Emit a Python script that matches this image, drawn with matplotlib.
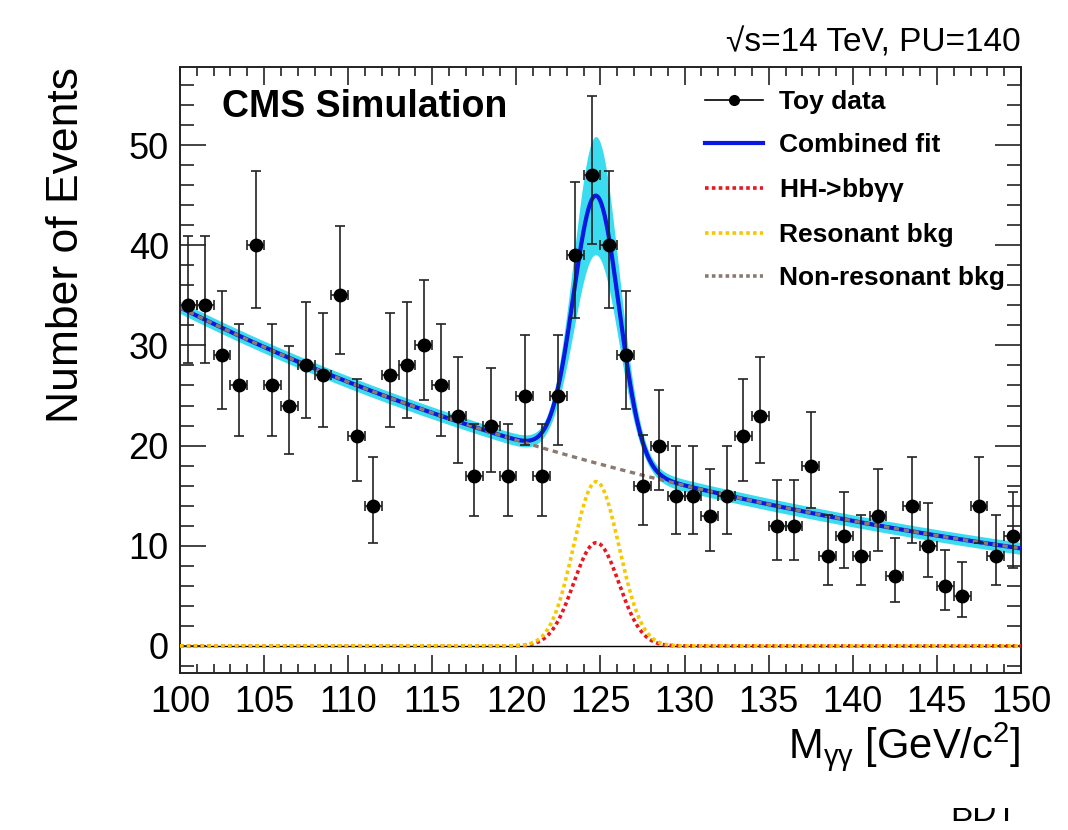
import numpy as np
import matplotlib.pyplot as plt
from matplotlib.lines import Line2D
from matplotlib.patches import Rectangle
from matplotlib.ticker import MultipleLocator

plt.rcParams['font.family'] = ['Liberation Sans', 'DejaVu Sans']
plt.rcParams['mathtext.fontset'] = 'custom'
plt.rcParams['mathtext.rm'] = 'Liberation Sans'
plt.rcParams['mathtext.it'] = 'Liberation Sans:italic'

# toy data, one bin per GeV
mass = np.arange(100.5, 150.0, 1.0)
counts = [34, 34, 29, 26, 40, 26, 24, 28, 27, 35,
          21, 14, 27, 28, 30, 26, 23, 17, 22, 17,
          25, 17, 25, 39, 47, 40, 29, 16, 20, 15,
          15, 13, 15, 21, 23, 12, 12, 18, 9, 11,
          9, 13, 7, 14, 10, 6, 5, 14, 9, 11]

# fit parameters
bkg_at_100 = 33.8
bkg_slope = 0.0249
peak_mean = 124.75
peak_sigma = 1.35
hh_peak = 10.3
res_peak = 16.4
band_bkg = 0.6
band_sig_frac = 0.22

n = np.array(counts, dtype=float)
# poisson 68% intervals (Wilson-Hilferty approx)
lo = n * (1 - 1 / (9 * n) - 1 / (3 * np.sqrt(n))) ** 3
hi = (n + 1) * (1 - 1 / (9 * (n + 1)) + 1 / (3 * np.sqrt(n + 1))) ** 3
yerr = [n - lo, hi - n]

x = np.linspace(100, 150, 1001)
nonres = bkg_at_100 * np.exp(-bkg_slope * (x - 100))
shape = np.exp(-0.5 * ((x - peak_mean) / peak_sigma) ** 2)
hh = hh_peak * shape
res = res_peak * shape
comb = nonres + hh + res
band = np.sqrt(band_bkg ** 2 + (band_sig_frac * (hh + res)) ** 2)

fig = plt.figure(figsize=(10.68, 8.3), dpi=100)
ax = fig.add_axes([0.1685, 0.1892, 0.7875, 0.7301])

blue = '#0a18e0'
red = '#e81820'
yellow = '#f5c800'
brown = '#8a7a70'

ax.axhline(0, color='black', lw=1.0, zorder=1)
ax.fill_between(x, comb - band, comb + band, color='#3cdcf0', lw=0, zorder=2)
ax.plot(x, comb, color=blue, lw=3.0, zorder=3)
ax.plot(x, nonres, color=brown, lw=2.4, ls=(0, (1.6, 1.4)), zorder=4)
ax.plot(x, hh, color=red, lw=2.6, ls=(0, (1, 0.9)), zorder=5)
ax.plot(x, res, color=yellow, lw=2.6, ls=(0, (1, 0.9)), zorder=6)

ax.errorbar(mass, n, yerr=yerr, xerr=0.5, fmt='o', color='black', ms=9,
            elinewidth=1.2, capsize=3.5, capthick=1.2, ecolor='#222222', zorder=7)

ax.set_xlim(100, 150)
ax.set_ylim(-2.7, 57.8)
ax.xaxis.set_major_locator(MultipleLocator(5))
ax.xaxis.set_minor_locator(MultipleLocator(1))
ax.yaxis.set_major_locator(MultipleLocator(10))
ax.yaxis.set_minor_locator(MultipleLocator(2))
ax.tick_params(which='both', direction='in', top=True, right=True, width=1.2, colors='#222222')
ax.tick_params(axis='x', which='major', length=13, labelsize=26, pad=9, labelcolor='black')
ax.tick_params(axis='x', which='minor', length=6.5)
ax.tick_params(axis='y', which='major', length=19, labelsize=26, pad=8, labelcolor='black')
ax.tick_params(axis='y', which='minor', length=10)
for s in ax.spines.values():
    s.set_linewidth(1.4)
    s.set_color('#222222')

ax.set_xlabel('M$_{\\mathregular{γγ}}$ [GeV/c$^{\\mathregular{2}}$]', fontsize=30, loc='right', labelpad=0)
ax.set_ylabel('Number of Events', fontsize=32, loc='top', labelpad=30)

ax.text(0.05, 0.934, 'CMS Simulation', transform=ax.transAxes, fontsize=27,
        fontweight='bold', va='center', ha='left')

handles = [
    Line2D([], [], color='black', lw=1.2, marker='o', ms=7),
    Line2D([], [], color=blue, lw=3.0),
    Line2D([], [], color=red, lw=2.6, ls=(0, (1, 0.9))),
    Line2D([], [], color=yellow, lw=2.6, ls=(0, (1, 0.9))),
    Line2D([], [], color=brown, lw=2.6, ls=(0, (1, 0.9))),
]
labels = ['Toy data', 'Combined fit', 'HH->bb$\\mathregular{γγ}$', 'Resonant bkg', 'Non-resonant bkg']
ax.legend(handles, labels, loc='upper left', bbox_to_anchor=(0.624, 0.962),
          frameon=False, borderpad=0, borderaxespad=0, handlelength=2.2,
          handletextpad=0.6, labelspacing=0.72, prop={'weight': 'bold', 'size': 19})

fig.text(0.956, 0.938, '√s=14 TeV, PU=140', fontsize=24, ha='right', va='baseline')
fig.text(0.952, 0.003, 'BDT', fontsize=24, ha='right', va='bottom')
fig.patches.append(Rectangle((0.88, 0.027), 0.1, 0.03, transform=fig.transFigure,
                             facecolor='white', edgecolor='none', zorder=10))

fig.savefig('out.png', dpi=100)
